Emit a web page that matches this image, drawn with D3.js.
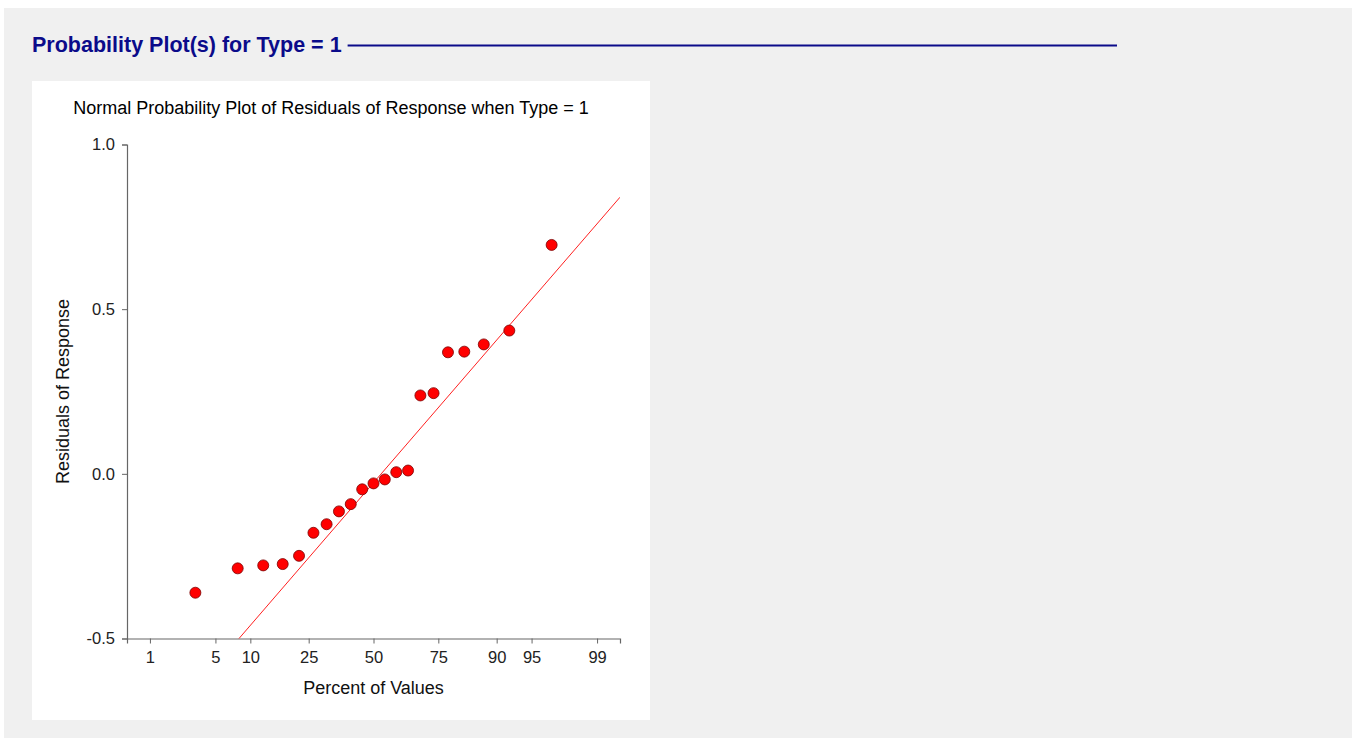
<!DOCTYPE html>
<html>
<head>
<meta charset="utf-8">
<script src="https://cdn.jsdelivr.net/npm/d3@7"></script>
<style>
  html, body { margin: 0; padding: 0; background: #ffffff; }
  svg { display: block; font-family: "Liberation Sans", Arial, sans-serif; }
</style>
</head>
<body>
<svg id="chart" width="1354" height="738"></svg>
<script>
// ---- data ----
const pageTitle = "Probability Plot(s) for Type = 1";
const chartTitle = "Normal Probability Plot of Residuals of Response when Type = 1";
const xAxisTitle = "Percent of Values";
const yAxisTitle = "Residuals of Response";

// plotting positions (percent) for each ordered residual
const percents = [3.19, 7.88, 12.56, 17.24, 21.92, 26.60, 31.28, 35.96, 40.64, 45.32, 50.00,
                  54.68, 59.36, 64.04, 68.72, 73.40, 78.08, 82.76, 87.44, 92.12, 96.81];
// ordered residuals
const residuals = [-0.361, -0.287, -0.278, -0.274, -0.249, -0.179, -0.153, -0.114, -0.092, -0.047, -0.029,
                   -0.017, 0.005, 0.010, 0.238, 0.245, 0.369, 0.371, 0.393, 0.435, 0.695];

const xTicks = [1, 5, 10, 25, 50, 75, 90, 95, 99];
const yTicks = [-0.5, 0.0, 0.5, 1.0];
// reference line: residual = intercept + slope * z(percent)
const refIntercept = -0.027;
const refSlope = 0.338;

// ---- layout ----
const svg = d3.select("#chart");
svg.append("rect").attr("x", 4).attr("y", 8).attr("width", 1348).attr("height", 730).attr("fill", "#f0f0f0");

const titleText = svg.append("text")
  .attr("x", 32).attr("y", 52)
  .attr("font-size", 21.5).attr("font-weight", "bold")
  .attr("fill", "#0b0b8a")
  .text(pageTitle);
const tw = titleText.node().getComputedTextLength();
svg.append("line")
  .attr("x1", 32 + tw + 6).attr("x2", 1117)
  .attr("y1", 45.5).attr("y2", 45.5)
  .attr("stroke", "#0b0b8a").attr("stroke-width", 2);

svg.append("rect").attr("x", 32).attr("y", 81).attr("width", 618).attr("height", 639).attr("fill", "#ffffff");

const pLeft = 127, pRight = 620, pTop = 144.5, pBottom = 638.5;
const zMax = 2.565;
const normInv = p => {
  // inverse normal CDF (Acklam)
  const a = [-3.969683028665376e+01, 2.209460984245205e+02, -2.759285104469687e+02, 1.383577518672690e+02, -3.066479806614716e+01, 2.506628277459239e+00];
  const b = [-5.447609879822406e+01, 1.615858368580409e+02, -1.556989798598866e+02, 6.680131188771972e+01, -1.328068155288572e+01];
  const c = [-7.784894002430293e-03, -3.223964580411365e-01, -2.400758277161838e+00, -2.549732539343734e+00, 4.374664141464968e+00, 2.938163982698783e+00];
  const d = [7.784695709041462e-03, 3.224671290700398e-01, 2.445134137142996e+00, 3.754408661907416e+00];
  const pl = 0.02425, ph = 1 - pl;
  let q, r;
  if (p < pl) { q = Math.sqrt(-2 * Math.log(p));
    return (((((c[0]*q+c[1])*q+c[2])*q+c[3])*q+c[4])*q+c[5]) / ((((d[0]*q+d[1])*q+d[2])*q+d[3])*q+1); }
  if (p <= ph) { q = p - 0.5; r = q*q;
    return (((((a[0]*r+a[1])*r+a[2])*r+a[3])*r+a[4])*r+a[5])*q / (((((b[0]*r+b[1])*r+b[2])*r+b[3])*r+b[4])*r+1); }
  q = Math.sqrt(-2 * Math.log(1 - p));
  return -(((((c[0]*q+c[1])*q+c[2])*q+c[3])*q+c[4])*q+c[5]) / ((((d[0]*q+d[1])*q+d[2])*q+d[3])*q+1);
};
const zScale = d3.scaleLinear().domain([-zMax, zMax]).range([pLeft, pRight]);
const xPos = pct => zScale(normInv(pct / 100));
const yScale = d3.scaleLinear().domain([-0.5, 1.0]).range([pBottom, pTop]);

svg.append("text")
  .attr("x", 331).attr("y", 114)
  .attr("text-anchor", "middle")
  .attr("font-size", 18).attr("fill", "#000")
  .text(chartTitle);

// x axis
const xAxis = d3.axisBottom(zScale)
  .tickValues(xTicks.map(t => normInv(t / 100)))
  .tickFormat((d, i) => xTicks[i])
  .tickSizeOuter(0).tickSize(5).tickPadding(8);
const gx = svg.append("g").attr("transform", `translate(0,${pBottom})`).call(xAxis);
gx.select(".domain").attr("stroke", "#666").attr("stroke-width", 1.2);
gx.selectAll(".tick line").attr("stroke", "#666");
gx.selectAll(".tick text").attr("font-size", 16.5).attr("fill", "#222").attr("font-family", "Liberation Sans, Arial, sans-serif");

// y axis
const yAxis = d3.axisLeft(yScale).tickValues(yTicks).tickFormat(d => d.toFixed(1))
  .tickSizeOuter(0).tickSize(5).tickPadding(7);
const gy = svg.append("g").attr("transform", `translate(${pLeft},0)`).call(yAxis);
gy.select(".domain").attr("stroke", "#666").attr("stroke-width", 1.2);
gy.selectAll(".tick line").attr("stroke", "#666");
gy.selectAll(".tick text").attr("font-size", 16.5).attr("fill", "#222").attr("font-family", "Liberation Sans, Arial, sans-serif");

svg.append("text")
  .attr("x", 373.5).attr("y", 694)
  .attr("text-anchor", "middle").attr("font-size", 18).attr("fill", "#111")
  .text(xAxisTitle);
svg.append("text")
  .attr("transform", `translate(69,${(pTop + pBottom) / 2}) rotate(-90)`)
  .attr("text-anchor", "middle").attr("font-size", 18).attr("fill", "#111")
  .text(yAxisTitle);

// reference line, clipped to plot area
svg.append("clipPath").attr("id", "plotclip")
  .append("rect").attr("x", pLeft).attr("y", pTop - 60).attr("width", pRight - pLeft).attr("height", pBottom - pTop + 60);
svg.append("line")
  .attr("clip-path", "url(#plotclip)")
  .attr("x1", zScale(-zMax)).attr("y1", yScale(refIntercept + refSlope * -zMax))
  .attr("x2", zScale(zMax)).attr("y2", yScale(refIntercept + refSlope * zMax))
  .attr("stroke", "#ff2020").attr("stroke-width", 1);

// points
svg.append("g").selectAll("circle")
  .data(percents.map((p, i) => [p, residuals[i]]))
  .join("circle")
  .attr("cx", d => xPos(d[0])).attr("cy", d => yScale(d[1]))
  .attr("r", 5.5)
  .attr("fill", "#ff0000").attr("stroke", "#7a0000").attr("stroke-width", 0.8);
</script>
</body>
</html>
